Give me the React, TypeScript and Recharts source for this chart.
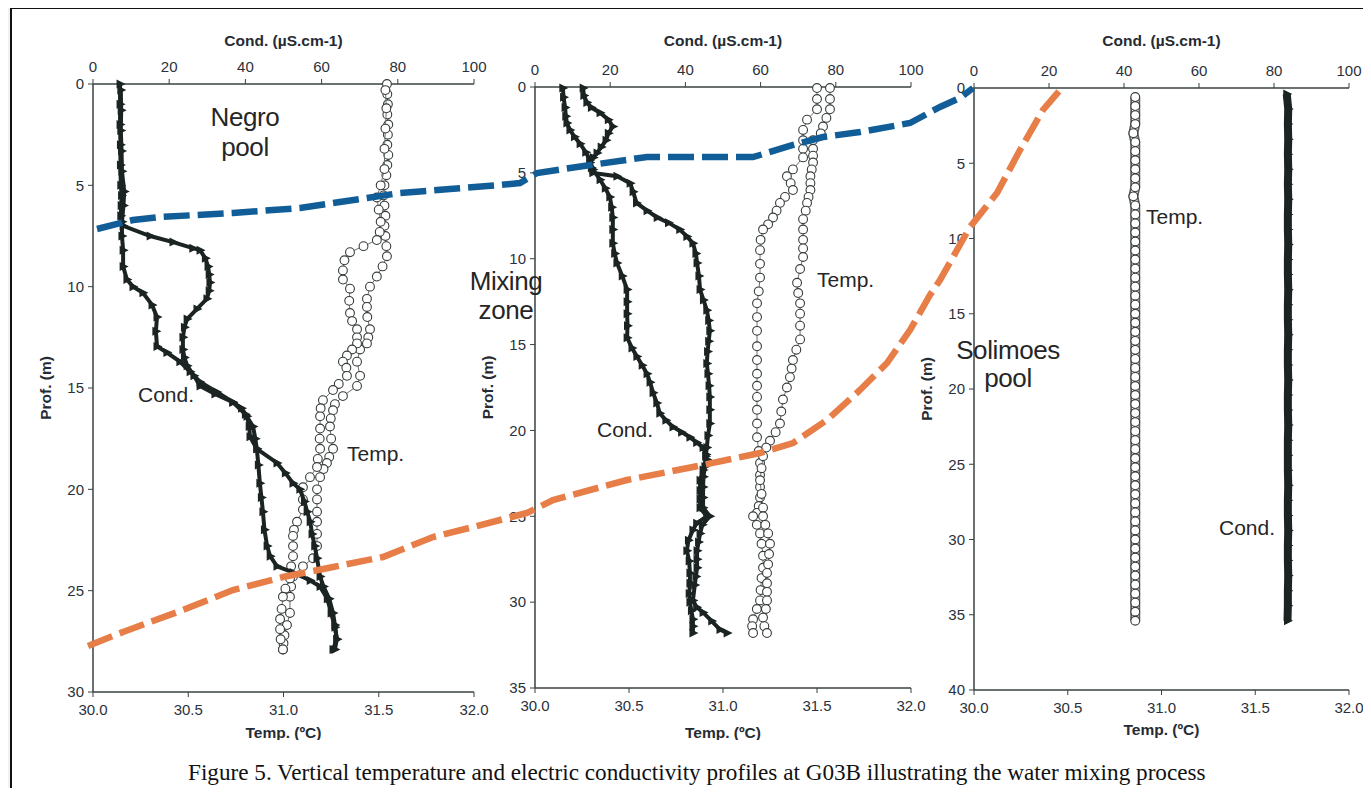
import React from 'react';
import { ScatterChart, Scatter, XAxis, YAxis, Label } from 'recharts';

// ---- axis ticks ----
const TEMP_TICKS = [30, 30.5, 31, 31.5, 32];
const COND_TICKS = [0, 20, 40, 60, 80, 100];
const NEGRO_DEPTH_TICKS = [0, 5, 10, 15, 20, 25, 30];
const MIX_DEPTH_TICKS = [0, 5, 10, 15, 20, 25, 30, 35];
const SOL_DEPTH_TICKS = [0, 5, 10, 15, 20, 25, 30, 35, 40];

// ---- Negro pool profiles (depth m / value) ----
const negroCondADepth = [0, 1, 2, 3, 4, 5, 5.5, 6, 6.5, 7, 7.5, 7.8, 8.1, 8.2, 8.6, 9, 9.4, 9.8, 10.2, 10.6, 11.1, 11.6, 12, 12.5, 13.1, 13.5, 13.9, 14.4, 14.9, 15.3, 15.7, 16, 16.4, 16.9, 17.4, 18, 18.7, 19.2, 19.7, 20, 20.6, 21.1, 21.6, 22.2, 22.8, 23.4, 24.3, 24.8, 25.4, 26.1, 26.7, 27.4, 27.9];
const negroCondA = [7.1, 7.1, 7.1, 7.2, 7.2, 7.3, 7.5, 7.4, 7.3, 7.9, 15, 21, 26.2, 28.1, 29.5, 30.2, 30.5, 30.7, 30.5, 29.9, 27.3, 24.7, 24, 23.6, 23.6, 24, 24.7, 26.5, 28.1, 32, 36.7, 39, 40.4, 41, 41.2, 43, 48.3, 50.5, 52.5, 54.3, 55.5, 56.2, 57, 57.5, 58.2, 58.8, 59.6, 60.5, 62, 63, 63.5, 64, 63];
const negroCondBDepth = [0.3, 1.3, 2.3, 3.3, 4.3, 5.3, 6, 6.8, 7.5, 8.2, 9, 9.65, 10, 10.3, 10.9, 11.5, 12.2, 12.95, 13.25, 13.7, 14.2, 14.7, 15.2, 15.7, 16.3, 16.9, 17.5, 18, 18.8, 19.7, 20.4, 21.1, 22, 22.8, 23.3, 23.8, 24.1, 24.5, 24.8, 25.4, 26.1, 26.8, 27.4, 27.9];
const negroCondB = [7.3, 7.4, 7.3, 7.5, 7.6, 8.2, 8, 7.6, 7.6, 7.9, 7.9, 8.9, 10.5, 13.1, 15.5, 16.8, 16.5, 16.8, 19.4, 22.8, 25.5, 28.1, 32.5, 36.7, 40, 42, 42.6, 43, 43.4, 43.8, 44.2, 44.6, 45, 45.7, 46.5, 48.3, 52.5, 57, 59.6, 61.5, 62.5, 63.5, 64, 63.5];
const negroTempADepth = [0, 0.5, 1, 1.5, 2, 2.5, 3, 3.5, 4, 4.5, 5, 5.5, 6, 6.5, 7, 7.5, 8, 8.5, 9, 9.5, 10, 10.6, 11, 11.5, 12.1, 12.5, 12.8, 13.1, 13.7, 14.4, 14.9, 15.4, 15.8, 16.1, 16.5, 16.9, 17.5, 18, 18.4, 18.7, 19, 19.4, 20, 20.5, 21.1, 21.6, 22.2, 22.8, 23.4, 23.8, 24.3, 24.8, 25.3, 26.1, 26.7, 27.2, 27.6, 27.9];
const negroTempA = [31.543, 31.545, 31.548, 31.545, 31.55, 31.548, 31.545, 31.55, 31.545, 31.54, 31.53, 31.525, 31.53, 31.535, 31.53, 31.535, 31.54, 31.543, 31.52, 31.49, 31.454, 31.438, 31.438, 31.44, 31.454, 31.445, 31.438, 31.402, 31.386, 31.402, 31.386, 31.312, 31.27, 31.26, 31.248, 31.244, 31.25, 31.26, 31.24, 31.228, 31.21, 31.192, 31.176, 31.176, 31.176, 31.176, 31.176, 31.176, 31.155, 31.102, 31.05, 31.04, 31.034, 31.034, 31.018, 31.005, 31, 30.997];
const negroTempBDepth = [0.3, 1.2, 2.2, 3.2, 4.2, 5, 5.6, 6.2, 6.8, 7.3, 7.7, 8, 8.3, 8.7, 9.2, 9.65, 10.1, 10.7, 11.3, 11.7, 12.1, 12.5, 12.8, 13.1, 13.4, 13.7, 14, 14.4, 14.8, 15.1, 15.6, 16, 16.4, 17, 17.5, 18, 18.5, 18.9, 19.4, 19.9, 20.5, 21, 21.6, 22, 22.3, 22.8, 23.3, 23.8, 24.4, 24.9, 25.3, 25.9, 26.4, 26.9, 27.4, 27.9];
const negroTempB = [31.535, 31.54, 31.535, 31.53, 31.53, 31.51, 31.49, 31.5, 31.51, 31.505, 31.49, 31.42, 31.349, 31.32, 31.312, 31.312, 31.349, 31.345, 31.349, 31.36, 31.386, 31.386, 31.386, 31.36, 31.333, 31.312, 31.33, 31.333, 31.29, 31.26, 31.207, 31.195, 31.192, 31.192, 31.19, 31.192, 31.18, 31.176, 31.139, 31.102, 31.102, 31.102, 31.071, 31.055, 31.05, 31.05, 31.05, 31.04, 31.034, 31.01, 30.997, 30.99, 30.982, 30.982, 30.985, 30.997];

// ---- Mixing zone profiles ----
const mixCondADepth = [0.06, 0.6, 1.2, 1.7, 2.1, 2.5, 2.9, 3.3, 3.8, 4.25, 4.8, 5.4, 5.9, 6.4, 7, 7.6, 8.3, 9.1, 9.7, 10.25, 11, 11.8, 12.5, 13.2, 13.9, 14.6, 15.2, 15.7, 16.2, 16.7, 17.2, 17.8, 18.4, 19, 19.4, 19.8, 20.1, 20.4, 20.7, 21, 21.4, 21.7, 22.3, 22.9, 23.5, 24, 24.5, 25, 25.4, 25.8, 26.4, 27, 27.6, 28.3, 28.9, 29.5, 30, 30.5, 31, 31.4, 31.8];
const mixCondA = [7.4, 7.6, 8, 8.2, 8.5, 9.3, 10.5, 12, 13.5, 14.6, 15.4, 17.3, 18.7, 19.9, 20.4, 20.7, 20.7, 20.7, 21.2, 21.8, 23.2, 24.5, 24.5, 24.5, 24.6, 24.5, 25.8, 27.1, 28.5, 29.8, 30.6, 31.4, 32.4, 33.2, 34.8, 36.7, 39, 41.2, 43, 44.7, 45.5, 45.7, 44.7, 43.9, 43.9, 43.9, 43.9, 45.7, 43, 42, 40.8, 40.4, 41, 41.2, 41.2, 41, 41.2, 41.6, 42, 42, 42];
const mixCondBDepth = [0.06, 0.5, 0.9, 1.2, 1.5, 1.9, 2.3, 2.7, 3.1, 3.5, 3.85, 4.1, 4.4, 4.7, 5, 5.2, 5.6, 6.1, 6.75, 7.2, 7.6, 7.9, 8.3, 8.7, 9.1, 9.7, 10.25, 11, 11.8, 12.4, 13, 13.6, 14.2, 14.8, 15.4, 16.1, 16.7, 17.4, 18.05, 18.8, 19.6, 20.3, 21, 21.5, 22.1, 22.7, 23.3, 23.9, 24.5, 25, 25.5, 26, 26.5, 27, 27.5, 28, 28.5, 29, 29.9, 30.3, 30.6, 31.1, 31.6, 31.8];
const mixCondB = [12.8, 13, 13.8, 15, 17.3, 19.5, 20.7, 19.5, 18.9, 17.6, 16.5, 15.5, 14.6, 15, 15.4, 21.8, 25.3, 26.1, 27, 29.8, 32.5, 35.5, 38.5, 40.4, 42, 42.8, 43.1, 43.6, 43.9, 44.8, 45.7, 46.2, 46.5, 46.2, 45.9, 45.7, 46, 46.3, 46.5, 46.5, 46.5, 46, 45.7, 45.4, 45.2, 44.8, 44.7, 44.7, 44.7, 46.5, 44.5, 43.9, 43.5, 43.1, 43.1, 43.1, 42.8, 42.5, 42, 43, 44.7, 47, 49.2, 51.1];
const mixTempADepth = [0.06, 0.7, 1.3, 1.9, 2.5, 3.1, 3.6, 4.1, 4.8, 5.2, 5.6, 6, 6.4, 6.75, 7.2, 7.6, 8, 8.3, 8.9, 9.5, 10.3, 11.1, 11.9, 12.6, 13.4, 14.2, 15.1, 15.9, 16.7, 17.4, 18.05, 18.8, 19.6, 20.4, 21.2, 21.9, 22.6, 23.3, 23.9, 24.4, 24.8, 25, 25.5, 26, 26.6, 27.3, 28, 28.6, 29.3, 29.9, 30.4, 31, 31.4, 31.8];
const mixTempA = [31.5, 31.5, 31.5, 31.447, 31.426, 31.426, 31.426, 31.426, 31.372, 31.34, 31.36, 31.372, 31.33, 31.303, 31.285, 31.266, 31.24, 31.213, 31.2, 31.197, 31.197, 31.197, 31.19, 31.181, 31.181, 31.181, 31.181, 31.181, 31.181, 31.181, 31.181, 31.181, 31.181, 31.181, 31.19, 31.197, 31.197, 31.197, 31.197, 31.19, 31.181, 31.16, 31.18, 31.197, 31.205, 31.213, 31.213, 31.205, 31.2, 31.197, 31.18, 31.16, 31.155, 31.16];
const mixTempBDepth = [0.06, 0.7, 1.3, 1.8, 2.3, 2.7, 3.1, 3.6, 4, 4.4, 4.8, 5.2, 5.6, 6, 6.4, 6.75, 7.2, 7.7, 8.3, 8.9, 9.4, 9.9, 10.6, 11.4, 12, 12.6, 13.2, 13.9, 14.7, 15.3, 15.9, 16.4, 16.9, 17.5, 18.2, 18.9, 19.6, 20.1, 20.6, 21, 21.5, 22.2, 22.9, 23.7, 24.5, 25, 25.5, 26, 26.6, 27.2, 27.8, 28.3, 28.9, 29.4, 29.9, 30.4, 30.9, 31.4, 31.8];
const mixTempB = [31.569, 31.569, 31.569, 31.55, 31.532, 31.52, 31.479, 31.479, 31.479, 31.479, 31.472, 31.465, 31.465, 31.465, 31.455, 31.447, 31.44, 31.426, 31.426, 31.426, 31.426, 31.426, 31.41, 31.394, 31.4, 31.41, 31.41, 31.41, 31.41, 31.39, 31.372, 31.365, 31.356, 31.34, 31.319, 31.31, 31.303, 31.28, 31.25, 31.23, 31.213, 31.205, 31.197, 31.205, 31.213, 31.213, 31.225, 31.24, 31.25, 31.245, 31.24, 31.234, 31.234, 31.234, 31.234, 31.228, 31.213, 31.22, 31.234];

// ---- Solimoes pool profiles ----
const solTempDepth = [0.6, 1.2, 1.8, 2.4, 3, 3.6, 4.2, 4.8, 5.4, 6, 6.6, 7.2, 7.8, 8.4, 9, 9.6, 10.2, 10.8, 11.4, 12, 12.6, 13.2, 13.8, 14.4, 15, 15.6, 16.2, 16.8, 17.4, 18, 18.6, 19.2, 19.8, 20.4, 21, 21.6, 22.2, 22.8, 23.4, 24, 24.6, 25.2, 25.8, 26.4, 27, 27.6, 28.2, 28.8, 29.4, 30, 30.6, 31.2, 31.8, 32.4, 33, 33.6, 34.2, 34.8, 35.4];
const solTemp = [30.86, 30.86, 30.86, 30.86, 30.85, 30.86, 30.86, 30.86, 30.86, 30.86, 30.86, 30.85, 30.86, 30.86, 30.86, 30.86, 30.86, 30.86, 30.86, 30.86, 30.86, 30.86, 30.86, 30.86, 30.86, 30.86, 30.86, 30.86, 30.86, 30.86, 30.86, 30.86, 30.86, 30.86, 30.86, 30.86, 30.86, 30.86, 30.86, 30.86, 30.86, 30.86, 30.86, 30.86, 30.86, 30.86, 30.86, 30.86, 30.86, 30.86, 30.86, 30.86, 30.86, 30.86, 30.86, 30.86, 30.86, 30.86, 30.86];
const solCondDepth = [0.4, 1.4, 2.4, 3.4, 4.4, 5.4, 6.4, 7.4, 8.4, 9.4, 10.4, 11.4, 12.4, 13.4, 14.4, 15.4, 16.4, 17.4, 18.4, 19.4, 20.4, 21.4, 22.4, 23.4, 24.4, 25.4, 26.4, 27.4, 28.4, 29.4, 30.4, 31.4, 32.4, 33.4, 34.4, 35.4];
const solCond = [83.4, 83.8, 83.7, 83.8, 83.7, 83.8, 83.7, 83.8, 83.7, 83.7, 83.8, 83.7, 83.7, 83.8, 83.7, 83.7, 83.8, 83.7, 83.7, 83.8, 83.7, 83.7, 83.8, 83.7, 83.7, 83.7, 83.8, 83.7, 83.7, 83.8, 83.7, 83.7, 83.8, 83.7, 83.7, 83.6];

// ---- mixing fronts drawn across the figure (figure px units) ----
const blueFrontX = [97, 133, 160, 233, 300, 333, 367, 400, 450, 500, 520, 537, 577, 647, 753, 760, 793, 823, 860, 910, 940, 960, 973];
const blueFrontY = [229, 220, 217, 213, 208, 203, 198, 193, 189, 185, 183, 173, 167, 157, 157, 155, 145, 137, 132, 123, 107, 98, 88];
const orangeFrontX = [88, 123, 183, 233, 283, 333, 383, 433, 473, 500, 527, 553, 627, 693, 760, 793, 827, 860, 887, 910, 930, 940, 970, 997, 1020, 1043, 1060];
const orangeFrontY = [646, 632, 610, 590, 577, 567, 557, 537, 527, 520, 513, 500, 480, 467, 453, 443, 420, 390, 363, 330, 295, 280, 227, 193, 150, 110, 90];

const INK = '#1b2323';
const AXIS = '#3a4141';
const TICK = '#2b313c';
const FONT = '"Liberation Sans", Arial, sans-serif';

const zip = (ys: number[], xs: number[]) => ys.map((y, i) => ({ x: xs[i], y }));

const Tri = (p: any) => {
  const { cx, cy } = p;
  if (cx == null || cy == null) return <g />;
  return <path d={`M${cx - 3.5},${cy - 4.5}L${cx + 5.5},${cy}L${cx - 3.5},${cy + 4.5}Z`} fill={INK} />;
};
const Ring = (p: any) => {
  if (p.cx == null) return <g />;
  return <circle cx={p.cx} cy={p.cy} r={4.4} fill="#fff" stroke="#363b3b" strokeWidth={1.1} />;
};
const Nothing = () => <g />;

type Series = { data: { x: number; y: number }[]; kind: 'cond' | 'temp' | 'column'; band?: number };

interface PanelProps {
  left: number; top: number; width: number; height: number;
  topH: number; botH: number; yW: number;
  depthMax: number; depthTicks: number[];
  botLabelOffset: number; yLabelOffset: number;
  series: Series[];
}

const tickStyle = { fill: TICK, fontSize: 15, fontFamily: FONT };
const titleStyle = { fill: '#262b33', fontSize: 15.5, fontWeight: 700, fontFamily: FONT };

const renderSeries = (s: Series, i: number) => {
  if (s.kind === 'cond') {
    return (
      <Scatter key={i} data={s.data} xAxisId="c" yAxisId="d" shape={Tri}
        line={{ stroke: INK, strokeWidth: s.band ?? 4 }} isAnimationActive={false} />
    );
  }
  if (s.kind === 'column') {
    // hollow column of densely stacked circles
    return [
      <Scatter key={`${i}o`} data={s.data} xAxisId="t" yAxisId="d" shape={Nothing}
        line={{ stroke: '#5b6060', strokeWidth: 10 }} isAnimationActive={false} />,
      <Scatter key={`${i}i`} data={s.data} xAxisId="t" yAxisId="d" shape={Ring}
        line={{ stroke: '#fff', strokeWidth: 6.5 }} isAnimationActive={false} />,
    ];
  }
  return (
    <Scatter key={i} data={s.data} xAxisId="t" yAxisId="d" shape={Ring}
      line={{ stroke: '#6a6f6f', strokeWidth: 1 }} isAnimationActive={false} />
  );
};

const Panel: React.FC<PanelProps> = (p) => (
  <div style={{ position: 'absolute', left: p.left, top: p.top }}>
    <ScatterChart width={p.width} height={p.height} margin={{ top: 0, right: 20, bottom: 0, left: 0 }}>
      <XAxis xAxisId="t" type="number" dataKey="x" orientation="bottom" height={p.botH}
        domain={[30, 32]} ticks={TEMP_TICKS} interval={0} tickFormatter={(v: number) => v.toFixed(1)}
        tick={tickStyle} tickSize={5} tickMargin={7}
        axisLine={{ stroke: AXIS, strokeWidth: 1.5 }} tickLine={{ stroke: AXIS }}>
        <Label value="Temp. (ºC)" position="insideBottom" offset={p.botLabelOffset} style={titleStyle} />
      </XAxis>
      <XAxis xAxisId="c" type="number" dataKey="x" orientation="top" height={p.topH}
        domain={[0, 100]} ticks={COND_TICKS} interval={0}
        tick={tickStyle} tickSize={5} tickMargin={7}
        axisLine={{ stroke: AXIS, strokeWidth: 1.5 }} tickLine={{ stroke: AXIS }}>
        <Label value="Cond. (µS.cm-1)" position="insideTop" offset={15} style={titleStyle} />
      </XAxis>
      <YAxis yAxisId="d" type="number" dataKey="y" reversed width={p.yW}
        domain={[0, p.depthMax]} ticks={p.depthTicks} interval={0}
        tick={tickStyle} tickSize={5} tickMargin={4}
        axisLine={{ stroke: AXIS, strokeWidth: 1.5 }} tickLine={{ stroke: AXIS }}>
        <Label value="Prof. (m)" angle={-90} position="insideLeft" offset={p.yLabelOffset}
          style={{ ...titleStyle, textAnchor: 'middle' }} />
      </YAxis>
      <YAxis yAxisId="r" type="number" orientation="right" width={0} domain={[0, p.depthMax]}
        tick={false} tickLine={false} axisLine={{ stroke: '#c6cbd0', strokeWidth: 2 }} />
      {p.series.map(renderSeries)}
    </ScatterChart>
  </div>
);

const note = (text: string, left: number, top: number, size: number, width?: number, lh?: number) => (
  <div style={{
    position: 'absolute', left, top, width, fontFamily: FONT, fontSize: size, color: '#262626',
    lineHeight: lh ? `${lh}px` : 'normal', textAlign: width ? 'center' : 'left', whiteSpace: 'pre',
    letterSpacing: size > 24 ? -0.4 : 0,
  }}>{text}</div>
);

export default function App() {
  const blue = zip(blueFrontY, blueFrontX);
  const orange = zip(orangeFrontY, orangeFrontX);
  return (
    <div style={{ position: 'relative', width: 1371, height: 796, margin: -8, overflow: 'hidden', background: '#fff' }}>
      {/* page chrome */}
      <div style={{ position: 'absolute', left: 0, top: 0, width: 1371, height: 6, background: '#ececec' }} />
      <div style={{ position: 'absolute', left: 1306, top: 0, width: 65, height: 6, background: 'linear-gradient(90deg,#8e8e8e,#d8d8d8)' }} />
      <div style={{ position: 'absolute', left: 0, top: 6, width: 10, height: 790, background: '#f2f2f2' }} />
      <div style={{ position: 'absolute', left: 10, top: 6, width: 1361, height: 3, background: '#111' }} />
      <div style={{ position: 'absolute', left: 10, top: 6, width: 2, height: 790, background: '#111' }} />

      <Panel left={20} top={20} width={474} height={720} topH={64} botH={48} yW={73}
        depthMax={30} depthTicks={NEGRO_DEPTH_TICKS} botLabelOffset={2} yLabelOffset={25}
        series={[
          { data: zip(negroTempADepth, negroTempA), kind: 'temp' },
          { data: zip(negroTempBDepth, negroTempB), kind: 'temp' },
          { data: zip(negroCondADepth, negroCondA), kind: 'cond' },
          { data: zip(negroCondBDepth, negroCondB), kind: 'cond' },
        ]} />
      <Panel left={462} top={20} width={469} height={720} topH={67} botH={52} yW={73}
        depthMax={35} depthTicks={MIX_DEPTH_TICKS} botLabelOffset={2} yLabelOffset={25}
        series={[
          { data: zip(mixTempADepth, mixTempA), kind: 'temp' },
          { data: zip(mixTempBDepth, mixTempB), kind: 'temp' },
          { data: zip(mixCondADepth, mixCondA), kind: 'cond' },
          { data: zip(mixCondBDepth, mixCondB), kind: 'cond' },
        ]} />
      <Panel left={900} top={20} width={469} height={720} topH={68} botH={50} yW={74}
        depthMax={40} depthTicks={SOL_DEPTH_TICKS} botLabelOffset={5} yLabelOffset={26}
        series={[
          { data: zip(solTempDepth, solTemp), kind: 'column' },
          { data: zip(solCondDepth, solCond), kind: 'cond', band: 8 },
        ]} />

      {note('Negro\npool', 185, 102, 26, 120, 30)}
      {note('Mixing\nzone', 446, 267, 26, 120, 29)}
      {note('Solimoes\npool', 948, 336, 26, 120, 28)}
      {note('Cond.', 138, 383, 21)}
      {note('Temp.', 347, 442, 21)}
      {note('Temp.', 817, 268, 21)}
      {note('Cond.', 597, 418, 21)}
      {note('Temp.', 1146, 205, 21)}
      {note('Cond.', 1219, 516, 21)}

      {/* dashed mixing fronts on top of all panels */}
      <div style={{ position: 'absolute', left: 0, top: 0, pointerEvents: 'none' }}>
        <ScatterChart width={1371} height={796} margin={{ top: 0, right: 0, bottom: 0, left: 0 }}>
          <XAxis type="number" dataKey="x" domain={[0, 1371]} hide />
          <YAxis type="number" dataKey="y" domain={[0, 796]} reversed hide />
          <Scatter data={blue} shape={Nothing} line={{ stroke: '#115d97', strokeWidth: 6.5, strokeDasharray: '26 8' }} isAnimationActive={false} />
          <Scatter data={orange} shape={Nothing} line={{ stroke: '#e77e48', strokeWidth: 6.5, strokeDasharray: '26 8' }} isAnimationActive={false} />
        </ScatterChart>
      </div>

      <div style={{ position: 'absolute', left: 188, top: 759, fontFamily: '"Liberation Serif", "Times New Roman", serif', fontSize: 23.2, color: '#111', whiteSpace: 'nowrap' }}>
        Figure 5. Vertical temperature and electric conductivity profiles at G03B illustrating the water mixing process
      </div>
    </div>
  );
}
